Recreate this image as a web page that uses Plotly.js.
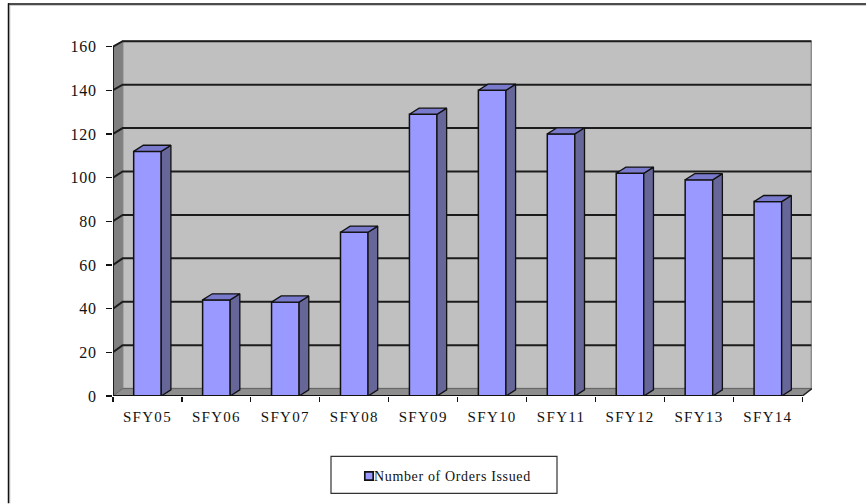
<!DOCTYPE html>
<html>
<head>
<meta charset="utf-8">
<script src="https://cdn.plot.ly/plotly-3.0.1.min.js"></script>
<style>
  html, body { margin: 0; padding: 0; background: #fff; }
  #chart { width: 866px; height: 504px; }
  .xtick text { letter-spacing: 1.3px; }
  .ytick text { letter-spacing: 0.8px; }
  .legendtext { letter-spacing: 0.65px; transform: translateX(-15px); }
  .legendpoints path { transform: translate(20px, 0) scale(0.7); stroke-width: 2.4px !important; }
</style>
</head>
<body>
<div id="chart"></div>
<script>
// Orders issued per state fiscal year
const categories = ['SFY05','SFY06','SFY07','SFY08','SFY09','SFY10','SFY11','SFY12','SFY13','SFY14'];
const ordersIssued = [112, 44, 43, 75, 129, 140, 120, 102, 99, 89];
const valueTicks = [0, 20, 40, 60, 80, 100, 120, 140, 160];
const categoryEdges = [-0.5, 0.5, 1.5, 2.5, 3.5, 4.5, 5.5, 6.5, 7.5, 8.5, 9.5];
const seriesName = 'Number of Orders Issued';

// Oblique depth of the pseudo-3D box, in axis units
const depthX = 0.14;
const depthY = 2.8;
const barHalf = 0.2;
const xLeft = -0.5;
const xRight = 9.5;
const yTop = 160;
const yMax = 163;

// The back wall is very slightly foreshortened
const wallY = v => 3.4 + 0.994 * v;

// Plot area in page pixels, used to place page-level furniture
const plot = { left: 113, right: 812, top: 396.5 - yMax * 2.1875, bottom: 396.5 };
const plotW = plot.right - plot.left;
const plotH = plot.bottom - plot.top;
const paperX = px => (px - plot.left) / plotW;
const paperY = py => (plot.bottom - py) / plotH;

const positions = categories.map((_, i) => i);

const pathOf = pts => 'M' + pts.map(p => p[0] + ',' + p[1]).join('L') + 'Z';
const linePath = pts => 'M' + pts.map(p => p[0] + ',' + p[1]).join('L');

const shapes = [
  // back wall
  { type: 'path', xref: 'x', yref: 'y', layer: 'below', fillcolor: '#C0C0C0',
    line: { color: '#8c8c8c', width: 1.5 },
    path: pathOf([[xLeft + depthX, wallY(0)], [xRight + depthX - 0.01, wallY(0)], [xRight + depthX - 0.01, wallY(yTop)], [xLeft + depthX, wallY(yTop)]]) },
  // left side wall
  { type: 'path', xref: 'x', yref: 'y', layer: 'below', fillcolor: '#808080',
    line: { color: '#808080', width: 0.5 },
    path: pathOf([[xLeft, 0], [xLeft + depthX, wallY(0)], [xLeft + depthX, wallY(yTop)], [xLeft, yTop]]) },
  // floor
  { type: 'path', xref: 'x', yref: 'y', layer: 'below', fillcolor: '#8E8E8E',
    line: { color: '#808080', width: 0.5 },
    path: pathOf([[xLeft, 0], [xRight, 0], [xRight + depthX, wallY(0)], [xLeft + depthX, wallY(0)]]) }
];

// Gridlines run across the side wall and along the back wall
valueTicks.forEach(v => {
  const isFloor = v === 0;
  shapes.push({ type: 'path', xref: 'x', yref: 'y', layer: 'below',
    line: { color: isFloor ? '#666' : '#1c1c1c', width: isFloor ? 1 : 2 },
    path: linePath([[xLeft, v], [xLeft + depthX, wallY(v)], [xRight + depthX - 0.01, wallY(v)]]) });
});

const front = {
  type: 'bar', name: seriesName, x: positions, y: ordersIssued, width: barHalf * 2,
  marker: { color: '#9999FF', line: { color: '#111', width: 1.5 } },
  hoverinfo: 'x+y', showlegend: true
};

// Right-hand and top faces of the columns
const sideX = [], sideY = [], topX = [], topY = [];
positions.forEach((p, i) => {
  const v = ordersIssued[i];
  const r = p + barHalf, l = p - barHalf;
  sideX.push(r, r + depthX, r + depthX, r, r, null);
  sideY.push(0, depthY, v + depthY, v, 0, null);
  topX.push(l, l + depthX, r + depthX, r, l, null);
  topY.push(v, v + depthY, v + depthY, v, v, null);
});
const sideFace = {
  type: 'scatter', mode: 'lines', x: sideX, y: sideY, fill: 'toself', fillcolor: '#666699',
  line: { color: '#111', width: 1.3 }, showlegend: false, hoverinfo: 'skip'
};
const topFace = {
  type: 'scatter', mode: 'lines', x: topX, y: topY, fill: 'toself', fillcolor: '#7A7ACC',
  line: { color: '#111', width: 1.3 }, showlegend: false, hoverinfo: 'skip'
};

const layout = {
  width: 866, height: 504,
  margin: { l: plot.left, r: 866 - plot.right, t: plot.top, b: 504 - plot.bottom, pad: 0 },
  paper_bgcolor: '#fff', plot_bgcolor: 'rgba(0,0,0,0)',
  showlegend: true,
  legend: {
    x: paperX(349), y: paperY(461), xanchor: 'left', yanchor: 'top',
    bgcolor: 'rgba(0,0,0,0)', borderwidth: 0,
    font: { family: '"Liberation Serif", serif', size: 14, color: '#111' }
  },
  xaxis: {
    range: [xLeft, xRight + depthX], tickmode: 'array', tickvals: positions, ticktext: categories,
    ticks: '', showgrid: false, zeroline: false, showline: false,
    tickfont: { family: '"Liberation Serif", serif', size: 15, color: '#111' },
    ticklabelstandoff: 10,
    minor: { tickmode: 'array', tickvals: categoryEdges, ticks: 'outside', ticklen: 5, tickwidth: 1.2, tickcolor: '#111', showgrid: false }
  },
  yaxis: {
    range: [0, yMax], tickmode: 'array', tickvals: valueTicks,
    ticks: 'outside', ticklen: 6, tickwidth: 1.2, tickcolor: '#111',
    showgrid: false, zeroline: false, showline: false,
    tickfont: { family: '"Liberation Serif", serif', size: 16, color: '#111' },
    ticklabelstandoff: 6
  },
  shapes: shapes
};

layout.shapes.push(
  // axis spines on the front plane, plus the closing edge of the floor
  { type: 'line', xref: 'x', yref: 'y', layer: 'above', x0: xLeft, x1: xRight, y0: 0, y1: 0, line: { color: '#111', width: 1.8 } },
  { type: 'line', xref: 'x', yref: 'y', layer: 'above', x0: xLeft, x1: xLeft, y0: 0, y1: yTop, line: { color: '#111', width: 1.8 } },
  { type: 'line', xref: 'x', yref: 'y', layer: 'above', x0: xRight, x1: xRight + depthX, y0: 0, y1: wallY(0), line: { color: '#222', width: 1.5 } },
  // legend frame
  { type: 'rect', xref: 'paper', yref: 'paper', layer: 'above', fillcolor: 'rgba(0,0,0,0)',
    line: { color: '#333', width: 1.2 },
    x0: paperX(331), x1: paperX(557), y0: paperY(494), y1: paperY(457) },
  // page frame with its soft shadow
  { type: 'line', xref: 'paper', yref: 'paper', layer: 'above', x0: paperX(10), x1: paperX(866), y0: paperY(5.4), y1: paperY(5.4), line: { color: '#ccc', width: 1.2 } },
  { type: 'line', xref: 'paper', yref: 'paper', layer: 'above', x0: paperX(9.8), x1: paperX(9.8), y0: paperY(504), y1: paperY(5), line: { color: '#ccc', width: 1.2 } },
  { type: 'line', xref: 'paper', yref: 'paper', layer: 'above', x0: paperX(8), x1: paperX(866), y0: paperY(3.8), y1: paperY(3.8), line: { color: '#111', width: 1.5 } },
  { type: 'line', xref: 'paper', yref: 'paper', layer: 'above', x0: paperX(8.5), x1: paperX(8.5), y0: paperY(504), y1: paperY(3.2), line: { color: '#111', width: 1.5 } }
);

Plotly.newPlot('chart', [front, sideFace, topFace], layout, { staticPlot: true, displayModeBar: false });
</script>
</body>
</html>
